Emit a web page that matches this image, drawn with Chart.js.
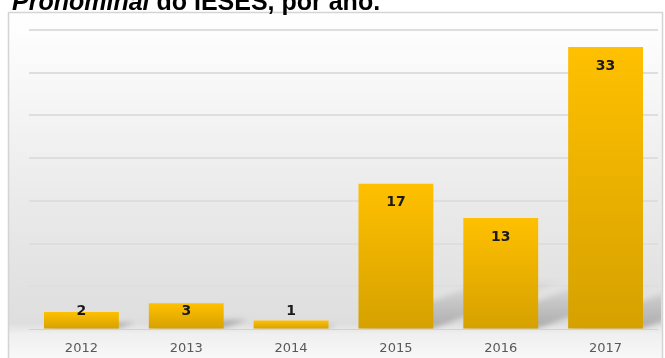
<!DOCTYPE html>
<html>
<head>
<meta charset="utf-8">
<script src="https://cdn.jsdelivr.net/npm/chart.js@4/dist/chart.umd.min.js"></script>
<style>
  html, body { margin: 0; padding: 0; background: #fff; }
  #wrap { position: relative; width: 665px; height: 358px; overflow: hidden; }
  #chart { position: absolute; left: 0; top: 0; }
  #title {
    position: absolute; left: 12px; top: -14px; z-index: 2;
    font: bold 25px "Liberation Sans", Arial, sans-serif;
    line-height: 30px; color: #000; white-space: nowrap;
  }
  #title i { font-style: italic; }
</style>
</head>
<body>
<div id="wrap">
  <div id="title"><i>Pronominal</i> do IESES, por ano.</div>
  <canvas id="chart" width="665" height="358"></canvas>
</div>
<script>
// Publications per year
const years = ['2012', '2013', '2014', '2015', '2016', '2017'];
const counts = [2, 3, 1, 17, 13, 33];
const axisMax = 35;
const axisStep = 5;

// Panel background with a soft vertical gradient and a thin frame
const backdrop = {
  id: 'backdrop',
  beforeDraw(chart) {
    const { ctx, width, height } = chart;
    ctx.save();
    ctx.fillStyle = '#ffffff';
    ctx.fillRect(0, 0, width, height);
    const g = ctx.createLinearGradient(0, 12, 0, height);
    g.addColorStop(0.00, '#ffffff');
    g.addColorStop(0.12, '#fbfbfb');
    g.addColorStop(0.55, '#eaeaea');
    g.addColorStop(0.90, '#dedede');
    g.addColorStop(0.93, '#efefef');
    g.addColorStop(1.00, '#f8f8f8');
    ctx.fillStyle = g;
    ctx.fillRect(8, 12, 655, height);
    ctx.strokeStyle = '#d4d4d4';
    ctx.lineWidth = 1.5;
    ctx.strokeRect(8.5, 12.5, 654, height + 10);
    ctx.restore();
  }
};

// Slanted soft shadows cast behind each bar
const barShadows = {
  id: 'barShadows',
  beforeDatasetsDraw(chart) {
    const { ctx, chartArea } = chart;
    const meta = chart.getDatasetMeta(0);
    ctx.save();
    ctx.beginPath();
    ctx.rect(chartArea.left, chartArea.top, chartArea.right - chartArea.left + 3, chartArea.bottom - chartArea.top);
    ctx.clip();
    ctx.filter = 'blur(2.5px)';
    meta.data.forEach(bar => {
      const half = bar.width / 2;
      const xl = bar.x - half, xr = bar.x + half;
      const h = bar.base - bar.y;
      const rise = h * 0.35, shift = h * 0.95;
      const g = ctx.createLinearGradient(0, bar.base, 0, bar.base - 50);
      g.addColorStop(0, 'rgba(0,0,0,0.22)');
      g.addColorStop(0.5, 'rgba(0,0,0,0.12)');
      g.addColorStop(1, 'rgba(0,0,0,0)');
      ctx.fillStyle = g;
      ctx.beginPath();
      ctx.moveTo(xl, bar.base);
      ctx.lineTo(xr, bar.base);
      ctx.lineTo(xr + shift, bar.base - rise);
      ctx.lineTo(xl + shift, bar.base - rise);
      ctx.closePath();
      ctx.fill();
    });
    ctx.restore();
  }
};

// Value labels near the top of each bar
const valueLabels = {
  id: 'valueLabels',
  afterDatasetsDraw(chart) {
    const { ctx } = chart;
    const meta = chart.getDatasetMeta(0);
    ctx.save();
    ctx.font = 'bold 14px "DejaVu Sans", sans-serif';
    ctx.fillStyle = '#1a1a1a';
    ctx.textAlign = 'center';
    ctx.textBaseline = 'middle';
    meta.data.forEach((bar, i) => {
      const y = Math.min(bar.y + 19, bar.base - 17);
      ctx.fillText(String(counts[i]), bar.x, y);
    });
    ctx.restore();
  }
};

function barFill(c) {
  const { chart } = c;
  const { chartArea, scales } = chart;
  if (!chartArea || c.type !== 'data') return '#f0b400';
  const top = scales.y.getPixelForValue(c.raw);
  const base = scales.y.getPixelForValue(0);
  const g = chart.ctx.createLinearGradient(0, top, 0, base);
  g.addColorStop(0, '#ffc000');
  g.addColorStop(1, '#d6a100');
  return g;
}

new Chart(document.getElementById('chart'), {
  type: 'bar',
  data: {
    labels: years,
    datasets: [{
      data: counts,
      backgroundColor: barFill,
      borderWidth: 0,
      barPercentage: 0.714,
      categoryPercentage: 1.0
    }]
  },
  options: {
    responsive: false,
    animation: false,
    devicePixelRatio: 1,
    layout: { padding: { left: 29, right: 7, top: 30, bottom: 0 } },
    plugins: { legend: { display: false }, tooltip: { enabled: false }, title: { display: false } },
    scales: {
      x: {
        grid: { display: false, drawTicks: false },
        border: { display: false },
        ticks: {
          color: '#595959',
          padding: 12,
          font: { family: '"DejaVu Sans", sans-serif', size: 13 }
        },
        afterFit(s) { s.height = 29; }
      },
      y: {
        min: 0,
        max: axisMax,
        ticks: { display: false, stepSize: axisStep },
        grid: {
          drawTicks: false,
          color: c => c.tick && c.tick.value === 0 ? '#d2d2d2' : '#dedede',
          lineWidth: c => c.tick && c.tick.value === 0 ? 1 : 2
        },
        border: { display: false },
        afterFit(s) { s.width = 0; }
      }
    }
  },
  plugins: [backdrop, barShadows, valueLabels]
});
</script>
</body>
</html>
